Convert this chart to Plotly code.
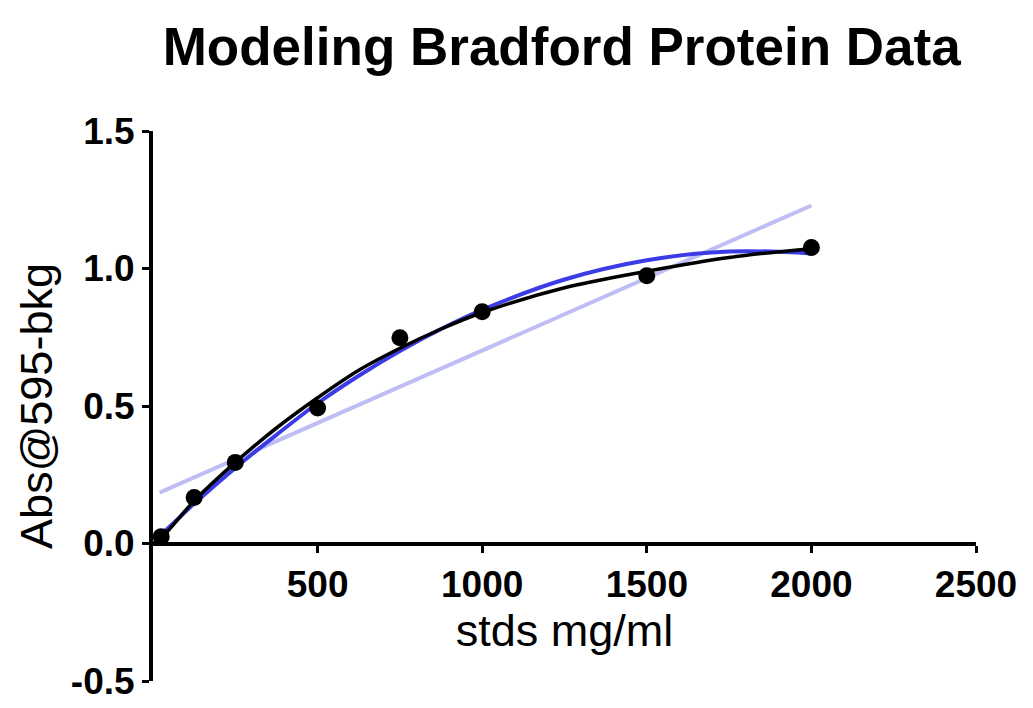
import plotly.graph_objects as go

# standards (mg/ml) and background-corrected absorbance at 595 nm
stds = [25, 125, 250, 500, 750, 1000, 1500, 2000]
absorb = [0.025, 0.167, 0.295, 0.493, 0.748, 0.843, 0.974, 1.076]

# fitted curves
fit_x = [0, 25, 125, 250, 375, 500, 625, 750, 875, 1000, 1250, 1500, 1750, 2000]
quad_fit = [0.02, 0.035, 0.145, 0.275, 0.395, 0.51, 0.61, 0.70, 0.78, 0.85, 0.96, 1.03, 1.062, 1.055]
assoc_fit = [0.0, 0.02, 0.155, 0.295, 0.42, 0.53, 0.63, 0.71, 0.78, 0.84, 0.93, 0.99, 1.04, 1.072]

lin_x = [20, 2000]
lin_fit = [0.185, 1.229]

x_ticks = [500, 1000, 1500, 2000, 2500]
y_ticks = [-0.5, 0.0, 0.5, 1.0, 1.5]
y_labels = ["-0.5", "0.0", "0.5", "1.0", "1.5"]

fig = go.Figure()
fig.add_trace(go.Scatter(x=lin_x, y=lin_fit, mode="lines",
                         line=dict(color="rgb(190,190,245)", width=4)))
fig.add_trace(go.Scatter(x=fit_x, y=quad_fit, mode="lines", line_shape="spline",
                         line=dict(color="rgb(60,60,230)", width=4)))
fig.add_trace(go.Scatter(x=fit_x, y=assoc_fit, mode="lines", line_shape="spline",
                         line=dict(color="black", width=3.5)))
fig.add_trace(go.Scatter(x=stds, y=absorb, mode="markers",
                         marker=dict(color="black", size=17)))

fig.update_layout(
    width=1033, height=708,
    margin=dict(l=145, r=65, t=123, b=35, autoexpand=False),
    plot_bgcolor="white", paper_bgcolor="white",
    showlegend=False,
    title=dict(text="Modeling Bradford Protein Data",
               x=0.536, xanchor="center", y=0.945, yanchor="middle",
               font=dict(family="Liberation Sans, Arial", size=53, weight="bold", color="black")),
    font=dict(family="Liberation Sans, Arial", color="black"),
)
fig.update_xaxes(
    range=[0, 2500], tickvals=x_ticks, ticks="outside", ticklen=7, tickwidth=3,
    tickcolor="black", showline=True, linewidth=4, linecolor="black",
    showgrid=False, zeroline=False, anchor="free", position=0.25,
    automargin=False,
    tickfont=dict(size=37, weight="bold"),
    title=dict(text="stds mg/ml", font=dict(size=45), standoff=8),
)
fig.update_yaxes(
    range=[-0.5, 1.5], tickvals=y_ticks, ticktext=y_labels, ticks="outside",
    ticklen=7, tickwidth=3, tickcolor="black", showline=True, linewidth=4,
    linecolor="black", showgrid=False, zeroline=False, automargin=False,
    tickfont=dict(size=37, weight="bold"),
    title=dict(text="Abs@595-bkg", font=dict(size=45), standoff=5),
)

fig.write_html("out.html")
